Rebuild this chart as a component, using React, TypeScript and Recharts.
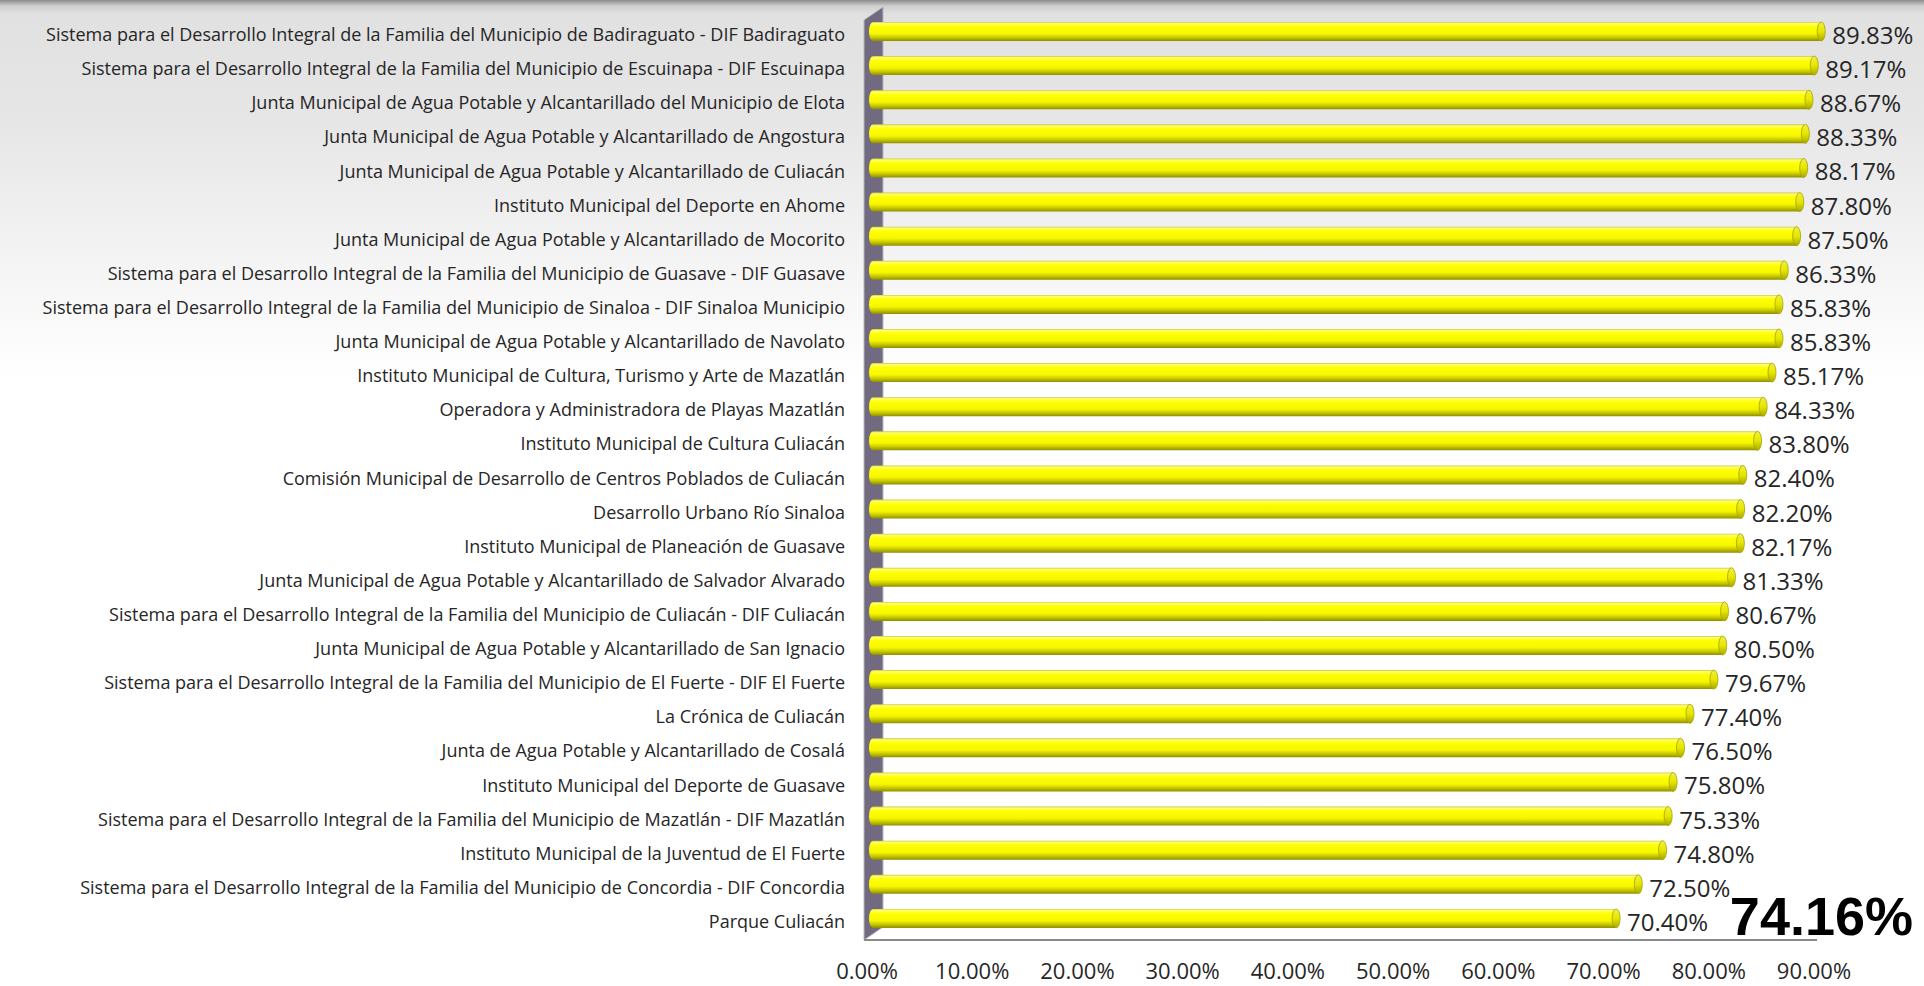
import React from 'react'
import { BarChart, Bar, XAxis, YAxis, ReferenceArea, LabelList } from 'recharts'

const categories = [
  'Sistema para el Desarrollo Integral de la Familia del Municipio de Badiraguato - DIF Badiraguato',
  'Sistema para el Desarrollo Integral de la Familia del Municipio de Escuinapa - DIF Escuinapa',
  'Junta Municipal de Agua Potable y Alcantarillado del Municipio de Elota ',
  'Junta Municipal de Agua Potable y Alcantarillado de Angostura ',
  'Junta Municipal de Agua Potable y Alcantarillado de Culiacán',
  'Instituto Municipal del Deporte en Ahome ',
  'Junta Municipal de Agua Potable y Alcantarillado de Mocorito',
  'Sistema para el Desarrollo Integral de la Familia del Municipio de Guasave - DIF Guasave',
  'Sistema para el Desarrollo Integral de la Familia del Municipio de Sinaloa - DIF Sinaloa Municipio',
  'Junta Municipal de Agua Potable y Alcantarillado de Navolato',
  'Instituto Municipal de Cultura, Turismo y Arte de Mazatlán ',
  'Operadora y Administradora de Playas Mazatlán',
  'Instituto Municipal de Cultura Culiacán',
  'Comisión Municipal de Desarrollo de Centros Poblados de Culiacán ',
  'Desarrollo Urbano Río Sinaloa',
  'Instituto Municipal de Planeación de Guasave',
  'Junta Municipal de Agua Potable y Alcantarillado de Salvador Alvarado',
  'Sistema para el Desarrollo Integral de la Familia del Municipio de Culiacán - DIF Culiacán',
  'Junta Municipal de Agua Potable y Alcantarillado de San Ignacio',
  'Sistema para el Desarrollo Integral de la Familia del Municipio de El Fuerte - DIF El Fuerte',
  'La Crónica de Culiacán ',
  'Junta de Agua Potable y Alcantarillado de Cosalá ',
  'Instituto Municipal del Deporte de Guasave',
  'Sistema para el Desarrollo Integral de la Familia del Municipio de Mazatlán - DIF Mazatlán',
  'Instituto Municipal de la Juventud de El Fuerte',
  'Sistema para el Desarrollo Integral de la Familia del Municipio de Concordia - DIF Concordia',
  'Parque Culiacán',
]

const values = [
  89.83, 89.17, 88.67, 88.33, 88.17, 87.8, 87.5, 86.33, 85.83, 85.83, 85.17, 84.33, 83.8, 82.4,
  82.2, 82.17, 81.33, 80.67, 80.5, 79.67, 77.4, 76.5, 75.8, 75.33, 74.8, 72.5, 70.4,
]

const xTicks = [0, 10, 20, 30, 40, 50, 60, 70, 80, 90]

const average = 74.16

const data = categories.map((name, i) => ({ name, value: values[i] }))

const pct = (v: number) => `${v.toFixed(2)}%`

const CategoryTick = (props: any) => {
  const { x, y, payload } = props
  return (
    <text x={x} y={y + 10} textAnchor="end" fill="#262626" fontSize={18} fontFamily="Open Sans">
      {payload.value}
    </text>
  )
}

// floor labels sit a bit left of the bars because of the 3d depth
const ValueTick = (props: any) => {
  const { x, y, payload } = props
  return (
    <text
      x={x - 6 - payload.value / 30}
      y={y + 28}
      textAnchor="middle"
      fill="#262626"
      fontSize={22}
      fontFamily="Open Sans"
    >
      {pct(payload.value)}
    </text>
  )
}

const CylinderBar = (props: any) => {
  const { x, y, width, height } = props
  if (!width || width <= 0) return null
  const r = 4
  const cy = y + height / 2
  return (
    <g>
      <path
        d={`M${x},${y} L${x + width},${y} L${x + width},${y + height} L${x},${y + height} A${r},${height / 2} 0 0 1 ${x},${y} Z`}
        fill="url(#barFill)"
      />
      <ellipse cx={x + width} cy={cy} rx={r} ry={height / 2} fill="url(#capFill)" stroke="#a3a300" strokeWidth={0.8} />
    </g>
  )
}

// back wall + floor of the 3d plot
const WallShape = (props: any) => {
  const { x, y, width, height } = props
  const wx = x - 9
  const ww = 19
  return (
    <g>
      <polygon
        points={`${wx},${y + 6} ${wx + ww},${y - 7} ${wx + ww},${y + height - 8} ${wx},${y + height + 5}`}
        fill="#716a80"
        stroke="#b8b8b8"
        strokeWidth={1}
      />
      <line x1={wx} y1={y + height + 5} x2={x + width - 6} y2={y + height + 5} stroke="#8a8a8a" strokeWidth={2} />
    </g>
  )
}

const ValueLabel = (props: any) => {
  const { x, y, width, height, value } = props
  return (
    <text x={x + width + 11} y={y + height / 2 + 12.5} fill="#262626" fontSize={24} fontFamily="Open Sans">
      {pct(value)}
    </text>
  )
}

export default function App() {
  return (
    <div
      style={{
        position: 'relative',
        width: 1924,
        height: 986,
        background:
          'linear-gradient(to bottom, #8c8c8c 0px, #cfcfcf 6px, #e1e1e1 14px, #e6e6e6 120px, #f4f4f4 260px, #ffffff 380px, #ffffff 100%)',
      }}
    >
      <style>{'body{margin:0}'}</style>
      <BarChart
        width={1924}
        height={986}
        data={data}
        layout="vertical"
        margin={{ top: 14, right: 101, bottom: 11, left: 0 }}
        barCategoryGap={0}
      >
        <defs>
          <linearGradient id="barFill" x1="0" y1="0" x2="0" y2="1">
            <stop offset="0%" stopColor="#c9c93a" />
            <stop offset="8%" stopColor="#ffff70" />
            <stop offset="25%" stopColor="#ffff00" />
            <stop offset="62%" stopColor="#f6f600" />
            <stop offset="82%" stopColor="#c6c600" />
            <stop offset="100%" stopColor="#8e8e00" />
          </linearGradient>
          <linearGradient id="capFill" x1="0" y1="0" x2="0" y2="1">
            <stop offset="0%" stopColor="#f0f040" />
            <stop offset="50%" stopColor="#e6e600" />
            <stop offset="100%" stopColor="#a8a800" />
          </linearGradient>
        </defs>
        <XAxis
          type="number"
          domain={[0, 90]}
          ticks={xTicks}
          padding={{ left: 6, right: 0 }}
          axisLine={false}
          tickLine={false}
          tickSize={0}
          tickMargin={16}
          height={40}
          interval={0}
          tick={<ValueTick />}
        />
        <YAxis
          type="category"
          dataKey="name"
          width={867}
          axisLine={false}
          tickLine={false}
          tickSize={0}
          tickMargin={22}
          interval={0}
          tick={<CategoryTick />}
        />
        <ReferenceArea x1={0} x2={90} ifOverflow="visible" fill="none" shape={<WallShape />} />
        <Bar dataKey="value" barSize={19} shape={<CylinderBar />} isAnimationActive={false}>
          <LabelList dataKey="value" content={<ValueLabel />} />
        </Bar>
      </BarChart>
      <div
        style={{
          position: 'absolute',
          right: 11,
          top: 889,
          fontFamily: '"Liberation Sans", Arial, sans-serif',
          fontWeight: 700,
          fontSize: 54,
          lineHeight: '54px',
          color: '#000',
        }}
      >
        {pct(average)}
      </div>
    </div>
  )
}
